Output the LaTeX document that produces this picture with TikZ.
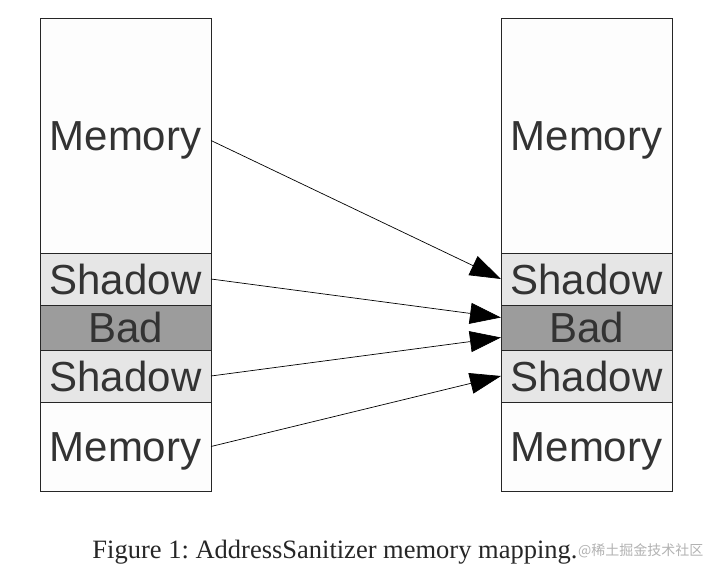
\documentclass[tikz,border=0pt]{standalone}
\usepackage{fontspec}
\setmainfont{Liberation Serif}
\newfontfamily\arialfont{Liberation Sans}
\newfontfamily\cjkfont{Noto Sans CJK SC}
\usetikzlibrary{arrows.meta,calc}
\definecolor{txtgray}{HTML}{333333}
\definecolor{shadowfill}{HTML}{E6E6E6}
\definecolor{badfill}{HTML}{9C9C9C}
\definecolor{memfill}{HTML}{FDFDFD}
\begin{document}
\frenchspacing
\begin{tikzpicture}[x=1pt,y=-1pt,
  cell/.style={draw=black!85, line width=0.9pt, minimum width=171pt, inner sep=0pt, outer sep=0pt,
    font=\arialfont\fontsize{42}{42}\selectfont, text=txtgray, anchor=north west,
    text height=30pt, text depth=0pt},
  memcell/.style={cell, fill=memfill},
  shadowcell/.style={cell, fill=shadowfill},
  badcell/.style={cell, fill=badfill},
  maparrow/.style={line width=0.7pt, -{Triangle[length=31pt,width=21pt]}}]
\useasboundingbox (0,0) rectangle (720,580);
% left column
\node[memcell, minimum height=235pt] (L1) at (40,18) {Memory};
\node[shadowcell, minimum height=52pt] (L2) at (40,253) {Shadow};
\node[badcell, minimum height=45pt] (L3) at (40,305) {Bad};
\node[shadowcell, minimum height=52pt] (L4) at (40,350) {Shadow};
\node[memcell, minimum height=89pt] (L5) at (40,402) {Memory};
% right column
\node[memcell, minimum height=235pt] (R1) at (501,18) {Memory};
\node[shadowcell, minimum height=52pt] (R2) at (501,253) {Shadow};
\node[badcell, minimum height=45pt] (R3) at (501,305) {Bad};
\node[shadowcell, minimum height=52pt] (R4) at (501,350) {Shadow};
\node[memcell, minimum height=89pt] (R5) at (501,402) {Memory};
% arrows
\draw[maparrow] ($(L1.east)+(0,5)$) -- (R2.west);
\draw[maparrow] (L2.east) -- ($(R3.west)+(0,-10)$);
\draw[maparrow] (L4.east) -- ($(R3.west)+(0,10)$);
\draw[maparrow] (L5.east) -- (R4.west);
% caption
\node[anchor=base, font=\fontsize{26.5}{26.5}\selectfont, text=black!85] (cap) at (335,558) {Figure 1: AddressSanitizer memory mapping.};
\node[anchor=base west, font=\cjkfont\fontsize{14}{14}\selectfont, text=black!30, inner sep=0pt] (wm) at (578,555) {@稀土掘金技术社区};
\end{tikzpicture}
\end{document}
